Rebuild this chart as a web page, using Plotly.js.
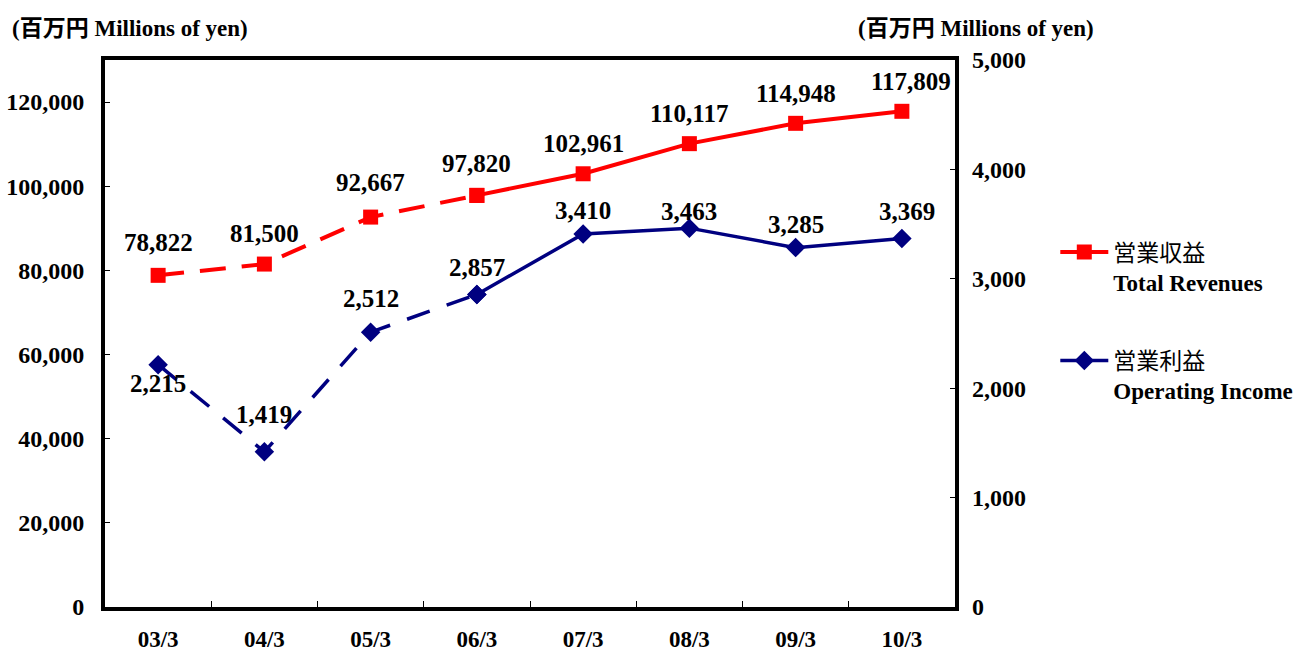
<!DOCTYPE html>
<html>
<head>
<meta charset="utf-8">
<script src="https://cdn.plot.ly/plotly-3.0.1.min.js"></script>
<style>html,body{margin:0;padding:0;background:#fff;}#chart{width:1303px;height:654px;}</style>
</head>
<body>
<div id="chart"></div>
<script>
// ---- data ----
const categories = ['03/3','04/3','05/3','06/3','07/3','08/3','09/3','10/3'];
const totalRevenues = [78822, 81500, 92667, 97820, 102961, 110117, 114948, 117809];
const operatingIncome = [2215, 1419, 2512, 2857, 3410, 3463, 3285, 3369];
const revenueLabels = ['78,822','81,500','92,667','97,820','102,961','110,117','114,948','117,809'];
const incomeLabels = ['2,215','1,419','2,512','2,857','3,410','3,463','3,285','3,369'];
const leftTicks = [0,20000,40000,60000,80000,100000,120000];
const leftTickText = ['0','20,000','40,000','60,000','80,000','100,000','120,000'];
const rightTicks = [0,1000,2000,3000,4000,5000];
const rightTickText = ['0','1,000','2,000','3,000','4,000','5,000'];
const dashedUntil = 3; // index where the dashed part ends

// label offsets (styling)
const revShiftY = [33,31,35,32,30,30,30,30];
const revShiftX = [0,0,0,0,0,0,0,9];
const incShiftY = [-19,37,34,27,23,17,23,27];
const incShiftX = [0,0,0,0,0,0,0,5];

const SERIF = 'Liberation Serif, Noto Sans CJK JP, serif';
const RED = '#ff0000', NAVY = '#000080';

const revDash = {
  x: categories.slice(0, dashedUntil+1), y: totalRevenues.slice(0, dashedUntil+1),
  mode: 'lines+markers', type: 'scatter', showlegend: false, hoverinfo: 'skip',
  line: {color: RED, width: 4, dash: '26px,16px'},
  marker: {symbol: 'square', size: 15, color: RED}
};
const revSolid = {
  x: categories.slice(dashedUntil), y: totalRevenues.slice(dashedUntil),
  mode: 'lines+markers', type: 'scatter', legend: 'legend',
  name: '<span style="font-size:23px">営業収益</span><br><b>Total Revenues</b>',
  line: {color: RED, width: 4},
  marker: {symbol: 'square', size: 15, color: RED}
};
const incDash = {
  x: categories.slice(0, dashedUntil+1), y: operatingIncome.slice(0, dashedUntil+1), yaxis: 'y2',
  mode: 'lines+markers', type: 'scatter', showlegend: false, hoverinfo: 'skip',
  line: {color: NAVY, width: 3.5, dash: '24px,18px'},
  marker: {symbol: 'diamond', size: 15, color: NAVY}
};
const incSolid = {
  x: categories.slice(dashedUntil), y: operatingIncome.slice(dashedUntil), yaxis: 'y2',
  mode: 'lines+markers', type: 'scatter', legend: 'legend2',
  name: '<span style="font-size:23px">営業利益</span><br><b>Operating Income</b>',
  line: {color: NAVY, width: 3.5},
  marker: {symbol: 'diamond', size: 15, color: NAVY}
};

const labelFont = {family: SERIF, size: 25, color: '#000', weight: 'bold'};
const annotations = [];
categories.forEach((c, i) => {
  annotations.push({x: c, y: totalRevenues[i], xref: 'x', yref: 'y', text: revenueLabels[i],
    showarrow: false, yshift: revShiftY[i], xshift: revShiftX[i], font: labelFont});
  annotations.push({x: c, y: operatingIncome[i], xref: 'x', yref: 'y2', text: incomeLabels[i],
    showarrow: false, yshift: incShiftY[i], xshift: incShiftX[i], font: labelFont});
});
const unitText = '<b>(<span style="font-family:Noto Sans CJK JP">百万円</span> Millions of yen)</b>';
annotations.push({xref: 'paper', yref: 'paper', x: -0.112, y: 1.062, xanchor: 'left', yanchor: 'middle',
  text: unitText, showarrow: false, font: {family: SERIF, size: 23, color: '#000'}});
annotations.push({xref: 'paper', yref: 'paper', x: 0.884, y: 1.062, xanchor: 'left', yanchor: 'middle',
  text: unitText, showarrow: false, font: {family: SERIF, size: 23, color: '#000'}});

const tickFont = {family: SERIF, size: 24, color: '#000', weight: 'bold'};
const legendFont = {family: SERIF, size: 23, color: '#000'};

const layout = {
  width: 1303, height: 654,
  margin: {l: 105, r: 348, t: 60, b: 47, autoexpand: false},
  paper_bgcolor: '#fff', plot_bgcolor: '#fff',
  showlegend: true,
  xaxis: {type: 'category', range: [-0.5, 7.5], showgrid: false, zeroline: false,
    showline: true, linewidth: 4, linecolor: '#000', mirror: true,
    ticks: 'inside', tickson: 'boundaries', ticklen: 6, tickcolor: '#000', tickwidth: 1,
    tickfont: {family: SERIF, size: 23, color: '#000', weight: 'bold'}, ticklabelstandoff: 8, fixedrange: true},
  yaxis: {range: [0, 130000], tickvals: leftTicks, ticktext: leftTickText, showgrid: false, zeroline: false,
    showline: true, linewidth: 4, linecolor: '#000', mirror: true,
    ticks: 'inside', ticklen: 5, tickcolor: '#000', tickwidth: 1,
    tickfont: tickFont, ticklabelstandoff: 12, fixedrange: true},
  yaxis2: {overlaying: 'y', side: 'right', range: [0, 5000], tickvals: rightTicks, ticktext: rightTickText,
    showgrid: false, zeroline: false, showline: false,
    ticks: 'inside', ticklen: 5, tickcolor: '#000', tickwidth: 1,
    tickfont: tickFont, ticklabelstandoff: 16, fixedrange: true},
  legend: {x: 1.118, y: 0.688, xanchor: 'left', yanchor: 'top', valign: 'top',
    bgcolor: 'rgba(0,0,0,0)', font: legendFont, itemwidth: 48},
  legend2: {x: 1.118, y: 0.490, xanchor: 'left', yanchor: 'top', valign: 'top',
    bgcolor: 'rgba(0,0,0,0)', font: legendFont, itemwidth: 48},
  annotations: annotations
};

Plotly.newPlot('chart', [incDash, incSolid, revDash, revSolid], layout, {displayModeBar: false, staticPlot: true});
</script>
</body>
</html>
